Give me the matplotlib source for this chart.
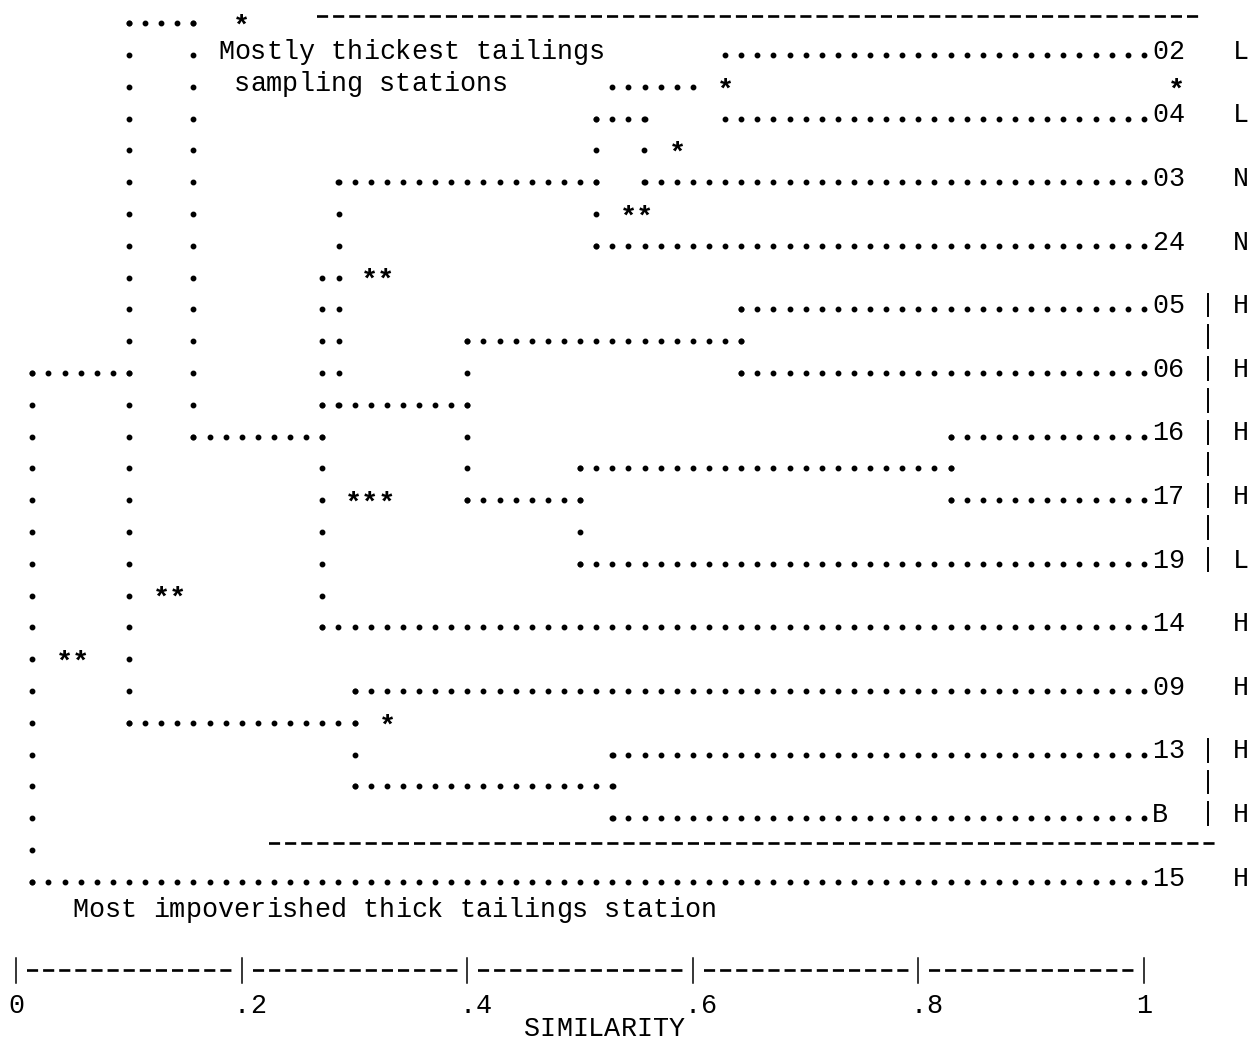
import numpy as np
import matplotlib.pyplot as plt

plt.rcParams['lines.scale_dashes'] = False

# the listing is a line printer dendrogram: 70 characters = 1.0 similarity,
# every station sits on an odd line, the half lines carry the joins
STEP = 70

# stations (top to bottom), their line in the listing and the class letter
station_rows = [1, 3, 5, 7, 9, 11, 13, 15, 17, 19, 21, 23, 25, 27]
stations = ['02', '04', '03', '24', '05', '06', '16', '17', '19', '14', '09', '13', 'B', '15']
classes = ['L', 'L', 'N', 'N', 'H', 'H', 'H', 'H', 'L', 'H', 'H', 'H', 'H', 'H']

# horizontal dotted runs: line, similarity from, similarity to
h_line = [0, 1, 2, 3, 3, 5, 5, 7, 9, 10, 11, 11, 12, 13, 13, 14, 15, 15, 17,
          19, 21, 22, 23, 24, 25, 27]
h_from = [.100, .629, .529, .514, .629, .286, .557, .514, .643, .400, .014, .643, .271, .157, .829,
          .500, .400, .829, .500, .271, .300, .100, .529, .300, .529, .014]
h_to = [.157, 1.0, .600, .557, 1.0, .514, 1.0, 1.0, 1.0, .643, .100, 1.0, .400, .271, 1.0,
        .829, .500, 1.0, 1.0, 1.0, 1.0, .300, 1.0, .529, 1.0, 1.0]

# vertical dotted runs (join levels): similarity, first line, last line
v_sim = [.014, .100, .157, .271, .286, .300, .400, .500, .514, .529, .557, .643, .829]
v_from = [11, 0, 0, 8, 5, 21, 10, 14, 3, 23, 3, 9, 13]
v_to = [27, 22, 13, 19, 12, 24, 15, 17, 7, 25, 5, 11, 15]

# significance stars: line, similarity, marks
star_rows = [0, 2, 2, 4, 6, 8, 15, 18, 20, 22]
star_sim = [.200, .629, 1.029, .586, .543, .314, .300, .129, .043, .329]
star_txt = ['*', '*', '*', '*', '**', '**', '***', '**', '**', '*']

# notes written into the listing
note_rows = [1, 2, 28]
note_sim = [.186, .200, .057]
note_txt = ['Mostly thickest tailings', 'sampling stations',
            'Most impoverished thick tailings station']

# dashed separators: line, from, to
dash_rows = [0, 26]
dash_from = [.271, .229]
dash_to = [1.043, 1.057]

# class brackets (first and last line)
bracket_from = [9, 23]
bracket_to = [17, 25]

tick_sim = [0, .2, .4, .6, .8, 1]
tick_lab = ['0', '.2', '.4', '.6', '.8', '1']

fig = plt.figure(figsize=(12.48, 10.47), dpi=100)
ax = fig.add_axes([0, 0, 1, 1])
ax.set_xlim(-0.0144, 1.0923)
ax.set_ylim(32.195, -0.73)
ax.axis('off')

font = dict(family=['Liberation Mono', 'DejaVu Sans Mono'], fontsize=19.3, color='black')


def write(row, s, txt, lift=0.12, **kw):
    # one character per printer column
    style = dict(font, **kw)
    for i, ch in enumerate(txt):
        if ch != ' ':
            ax.text(s + i / STEP, row + lift, ch, ha='center', va='baseline', **style)


def dashed(row, a, b):
    ax.plot([a - 0.5 / STEP, b + 0.5 / STEP], [row - 0.23] * 2, color='black',
            lw=1.9, ls=(9.8, (8.0, 3.6)), solid_capstyle='butt', dash_capstyle='butt')


# dotted tree
xs, ys = [], []
for r, a, b in zip(h_line, h_from, h_to):
    c = np.arange(round(a * STEP), round(b * STEP) + 1) / STEP
    xs += list(c)
    ys += [r] * len(c)
for s, r0, r1 in zip(v_sim, v_from, v_to):
    rr = list(range(r0, r1 + 1))
    xs += [s] * len(rr)
    ys += rr
ax.plot(xs, ys, 'o', ms=3.2, color='black', ls='none')

# station names and classes
for r, name, cl in zip(station_rows, stations, classes):
    write(r, 71 / STEP, name)
    write(r, 76 / STEP, cl)

for r0, r1 in zip(bracket_from, bracket_to):
    for r in range(r0, r1 + 1):
        ax.plot([74 / STEP] * 2, [r - 0.5, r + 0.22], color='black', lw=1.4)

# star groups as one string each, centred on their columns
for r, s, t in zip(star_rows, star_sim, star_txt):
    mid = s + (len(t) - 1) / 2 / STEP
    ax.text(mid, r + 0.33, t, ha='center', va='baseline',
            **dict(font, fontsize=20.5, fontweight='bold'))

for r, s, t in zip(note_rows, note_sim, note_txt):
    write(r, s, t)

for r, a, b in zip(dash_rows, dash_from, dash_to):
    dashed(r, a, b)

# similarity scale
axis_row = 30
for a, b in zip(tick_sim[:-1], tick_sim[1:]):
    dashed(axis_row, a + 1 / STEP, b - 1 / STEP)
for s, lab in zip(tick_sim, tick_lab):
    ax.plot([s, s], [axis_row - 0.6, axis_row + 0.19], color='black', lw=1.1)
    write(axis_row + 1, s, lab)
write(32, 32 / STEP, 'SIMILARITY', lift=-0.14)

fig.savefig('out.png', dpi=100)
